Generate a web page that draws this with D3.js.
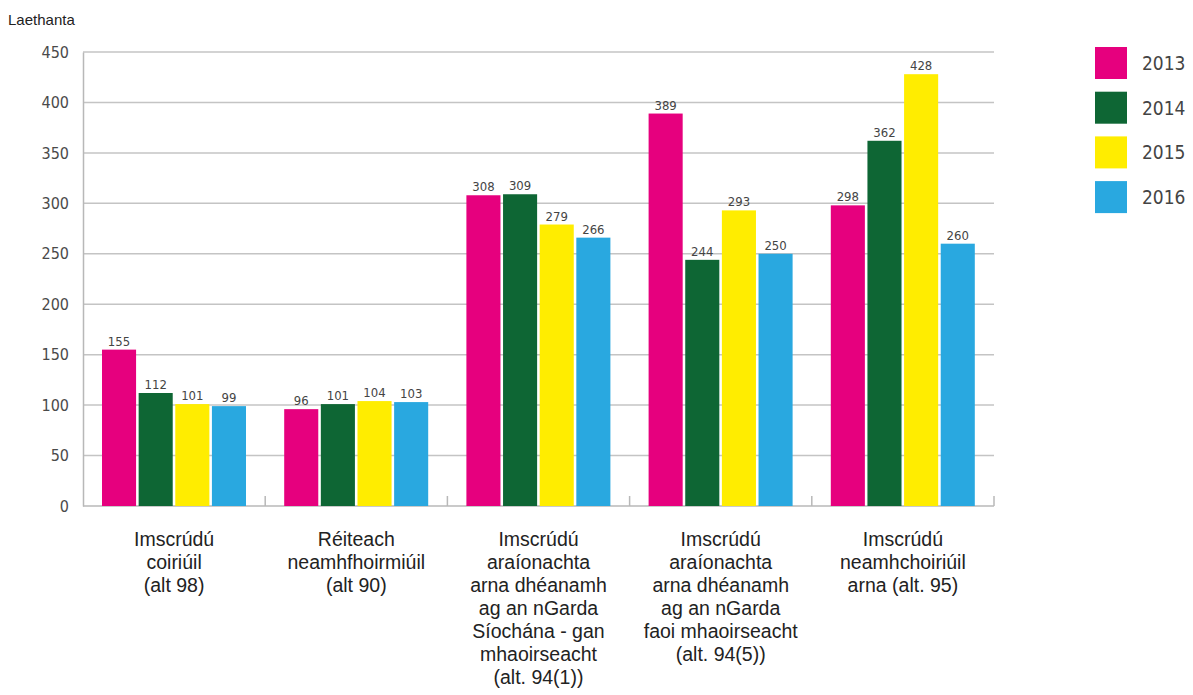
<!DOCTYPE html>
<html>
<head>
<meta charset="utf-8">
<script src="https://cdn.jsdelivr.net/npm/d3@7"></script>
<style>
  body { margin: 0; background: #fff; }
  svg { display: block; }
</style>
</head>
<body>
<svg width="1193" height="695"></svg>
<script>
// categories (each label split in lines as in the report)
var categories = [
	["Imscrúdú", "coiriúil", "(alt 98)"],
	["Réiteach", "neamhfhoirmiúil", "(alt 90)"],
	["Imscrúdú", "araíonachta", "arna dhéanamh", "ag an nGarda", "Síochána - gan", "mhaoirseacht", "(alt. 94(1))"],
	["Imscrúdú", "araíonachta", "arna dhéanamh", "ag an nGarda", "faoi mhaoirseacht", "(alt. 94(5))"],
	["Imscrúdú", "neamhchoiriúil", "arna (alt. 95)"]
];
var years = ["2013", "2014", "2015", "2016"];
var colors = ["#e6007e", "#0e6634", "#ffed00", "#29a8e0"];

var v2013 = [155, 96, 308, 389, 298];
var v2014 = [112, 101, 309, 244, 362];
var v2015 = [101, 104, 279, 293, 428];
var v2016 = [99, 103, 266, 250, 260];
var series = [v2013, v2014, v2015, v2016];

var yTicks = [0, 50, 100, 150, 200, 250, 300, 350, 400, 450];

var svg = d3.select("svg");
var plotLeft = 83, plotRight = 994, plotTop = 52, plotBottom = 506;
var numFont = "'DejaVu Sans Condensed', 'Roboto', sans-serif";

var x0 = d3.scaleBand()
	.domain(d3.range(categories.length))
	.range([plotLeft, plotRight]);

var x1 = d3.scaleBand()
	.domain(d3.range(years.length))
	.range([19, 163])
	.paddingInner(0.07);

var y = d3.scaleLinear()
	.domain([0, 450])
	.range([plotBottom, plotTop]);

// gridlines
svg.append("g")
	.selectAll("line")
	.data(yTicks.slice(1))
	.enter().append("line")
	.attr("x1", plotLeft).attr("x2", plotRight)
	.attr("y1", function(d) { return y(d); })
	.attr("y2", function(d) { return y(d); })
	.attr("stroke", "#c4c4c4")
	.attr("stroke-width", 1.5);

// y axis
var yAxis = svg.append("g")
	.attr("transform", "translate(" + plotLeft + ",0)")
	.call(d3.axisLeft(y).tickValues(yTicks).tickSize(0).tickPadding(14));
yAxis.select(".domain").attr("stroke", "#b8b8b8").attr("stroke-width", 1.5);
yAxis.selectAll("text")
	.attr("font-family", numFont)
	.attr("font-size", 16)
	.attr("fill", "#4a4a4a");

// baseline + group separator ticks
svg.append("line")
	.attr("x1", plotLeft).attr("x2", plotRight)
	.attr("y1", plotBottom).attr("y2", plotBottom)
	.attr("stroke", "#b8b8b8").attr("stroke-width", 1.5);

svg.append("g")
	.selectAll("line")
	.data(d3.range(1, categories.length + 1))
	.enter().append("line")
	.attr("x1", function(d) { return x0(d - 1) + x0.bandwidth(); })
	.attr("x2", function(d) { return x0(d - 1) + x0.bandwidth(); })
	.attr("y1", plotBottom).attr("y2", plotBottom - 10)
	.attr("stroke", "#b8b8b8").attr("stroke-width", 1.5);

// bars
var groups = svg.append("g")
	.selectAll("g")
	.data(categories)
	.enter().append("g")
	.attr("transform", function(d, i) { return "translate(" + x0(i) + ",0)"; });

groups.each(function(c, i) {
	var g = d3.select(this);
	for (var s = 0; s < series.length; s++) {
		var v = series[s][i];
		g.append("rect")
			.attr("x", x1(s))
			.attr("width", x1.bandwidth())
			.attr("y", y(v))
			.attr("height", y(0) - y(v))
			.attr("fill", colors[s]);
		g.append("text")
			.attr("x", x1(s) + x1.bandwidth() / 2)
			.attr("y", y(v) - 4)
			.attr("text-anchor", "middle")
			.attr("font-family", numFont)
			.attr("font-size", 13)
			.attr("fill", "#444")
			.text(v);
	}
});

// category labels
groups.append("text")
	.attr("text-anchor", "middle")
	.attr("font-family", "'Liberation Sans', Arial, sans-serif")
	.attr("font-size", 19.5)
	.attr("fill", "#222")
	.each(function(lines) {
		var t = d3.select(this);
		for (var k = 0; k < lines.length; k++) {
			t.append("tspan")
				.attr("x", x0.bandwidth() / 2)
				.attr("y", 546 + k * 23)
				.text(lines[k]);
		}
	});

// y title
svg.append("text")
	.attr("x", 8).attr("y", 25)
	.attr("font-family", "'Liberation Sans', Arial, sans-serif")
	.attr("font-size", 15)
	.attr("fill", "#222")
	.text("Laethanta");

// legend
var legend = svg.append("g")
	.selectAll("g")
	.data(years)
	.enter().append("g")
	.attr("transform", function(d, i) { return "translate(1095," + (47 + i * 44.7) + ")"; });

legend.append("rect")
	.attr("width", 32).attr("height", 32)
	.attr("fill", function(d, i) { return colors[i]; });

legend.append("text")
	.attr("x", 47).attr("y", 23)
	.attr("font-family", numFont)
	.attr("font-size", 19)
	.attr("fill", "#444")
	.text(function(d) { return d; });
</script>
</body>
</html>
